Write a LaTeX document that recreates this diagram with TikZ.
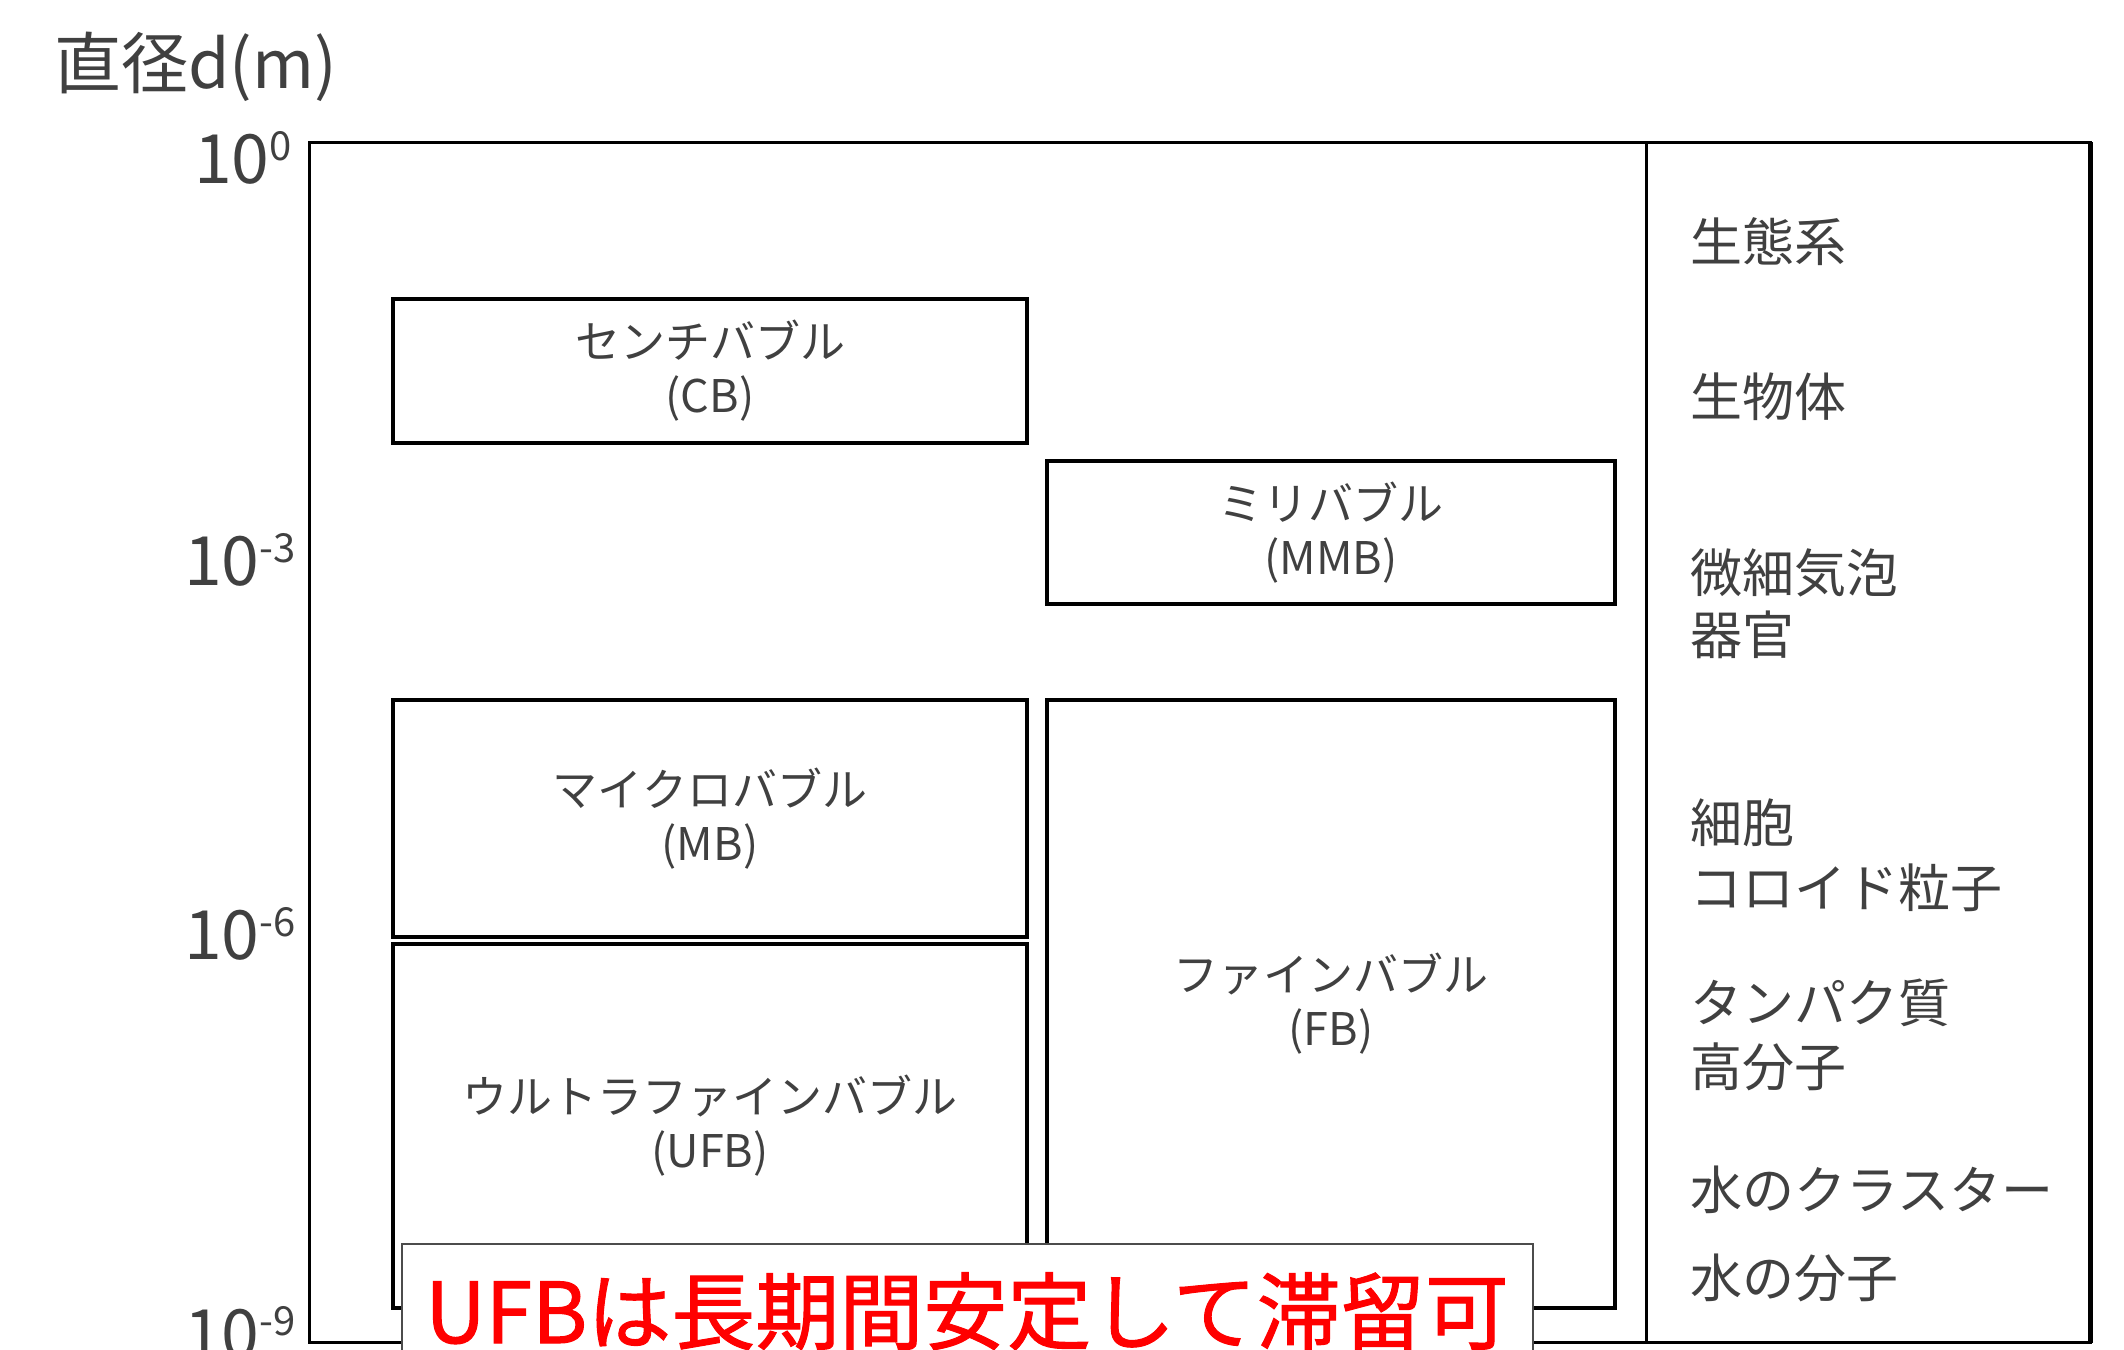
\documentclass[tikz,border=0pt]{standalone}
\usepackage{fontspec}
\setmainfont{Noto Sans CJK JP}
\newfontfamily\notefont[FakeBold=1.2]{Noto Sans CJK JP}
\definecolor{txtgray}{HTML}{404040}
\definecolor{notered}{HTML}{FF0000}
\newcommand\expo[1]{\raisebox{23pt}{\fontsize{40}{40}\selectfont #1}}
\begin{document}
\begin{tikzpicture}[x=1pt,y=-1pt,
  bubble/.style={draw=black, line width=3.5pt, rectangle, inner sep=0pt, align=center,
    text=txtgray, font=\fontsize{45}{54}\selectfont},
  side/.style={anchor=base west, text=txtgray, font=\fontsize{52}{60}\selectfont, inner sep=0pt},
  tick/.style={anchor=base east, text=txtgray, font=\fontsize{68}{68}\selectfont, inner sep=0pt},
  frame/.style={draw=black, line width=3pt},
  notebox/.style={draw=black!70, line width=1.5pt, fill=white, rectangle, inner sep=0pt},
  notetext/.style={anchor=base, text=notered, font=\notefont\fontsize{84}{84}\selectfont, inner sep=0pt}]
\useasboundingbox (0,0) rectangle (2124,1349);
% frame
\draw[frame] (309,142) rectangle (2090,1342);
\draw[draw=black, line width=5pt] (2090,142) -- (2090,1343);
\draw[frame] (1646,142) -- (1646,1342);
% title and ticks
\node[anchor=base west, text=txtgray, font=\fontsize{67}{67}\selectfont, inner sep=0pt] (title) at (54,88) {直径d(m)};
\node[tick] (t0) at (292,183) {10\expo{0}};
\node[tick] (t3) at (296,585) {10\expo{-3}};
\node[tick] (t6) at (296,959) {10\expo{-6}};
\node[tick] (t9) at (296,1358) {10\expo{-9}};
% bubbles
\node[bubble, minimum width=634pt, minimum height=144pt] (cb) at (710,371) {センチバブル\\(CB)};
\node[bubble, minimum width=568pt, minimum height=143pt] (mmb) at (1331,532.5) {ミリバブル\\(MMB)};
\node[bubble, minimum width=634pt, minimum height=237pt] (mb) at (710,818.5) {マイクロバブル\\(MB)};
\node[bubble, minimum width=634pt, minimum height=364pt] (ufb) at (710,1126) {ウルトラファインバブル\\(UFB)};
\node[bubble, minimum width=568pt, minimum height=608pt] (fb) at (1331,1004) {ファインバブル\\(FB)};
% side labels
\node[side] (s1) at (1690,261) {生態系};
\node[side] (s2) at (1690,416) {生物体};
\node[side] (s3) at (1690,592) {微細気泡};
\node[side] (s4) at (1690,654) {器官};
\node[side] (s5) at (1690,842) {細胞};
\node[side] (s6) at (1690,907) {コロイド粒子};
\node[side] (s7) at (1690,1022) {タンパク質};
\node[side] (s8) at (1690,1086) {高分子};
\node[side] (s9) at (1690,1209) {水のクラスター};
\node[side] (s10) at (1690,1297) {水の分子};
% note
\node[notebox, minimum width=1131pt, minimum height=130pt, anchor=north] (note) at (967.5,1243) {};
\node[notetext] (notetxt) at (967,1343) {UFBは長期間安定して滞留可};
\end{tikzpicture}
\end{document}
